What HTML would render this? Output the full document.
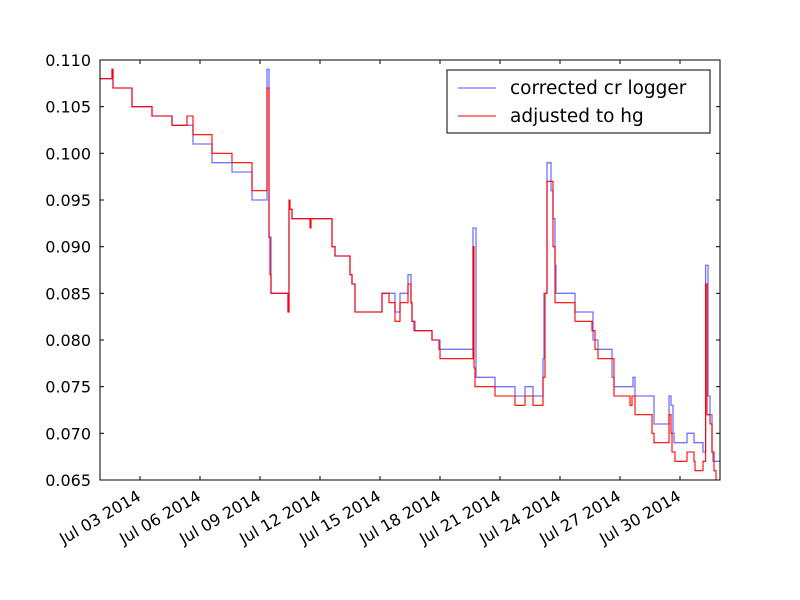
<!DOCTYPE html>
<html><head><meta charset="utf-8"><style>body{margin:0;background:#fff}svg{display:block;font-family:"DejaVu Sans","Liberation Sans",sans-serif}</style></head>
<body>
<svg id="chart" width="800" height="600">
<rect width="800" height="600" fill="#fff"/>
<g id="plot"></g>
<g id="axes"></g>
</svg>
<script>
const xTickDays=[2,5,8,11,14,17,20,23,26,29];
const xTickLabels=["Jul 03 2014","Jul 06 2014","Jul 09 2014","Jul 12 2014","Jul 15 2014","Jul 18 2014","Jul 21 2014","Jul 24 2014","Jul 27 2014","Jul 30 2014"];
const yTicks=[0.065,0.070,0.075,0.080,0.085,0.090,0.095,0.100,0.105,0.110];
const blueT=[0,0.6,0.65,1.6,2.6,3.6,4.65,5.6,6.6,7.6,8.35,8.45,8.55,9.4,9.45,9.5,9.6,11.6,11.75,12.5,12.6,12.75,14.1,14.75,15,15.4,15.55,15.6,15.7,15.75,16.6,17,18.65,18.8,19.75,20.75,21.25,21.65,22.15,22.2,22.35,22.55,22.65,22.75,22.8,23.75,24.65,24.9,25.6,25.7,26.65,26.75,27.7,28.45,28.55,28.65,28.7,29.35,29.7,30.15,30.28,30.4,30.5,30.6,30.65];
const blueV=[0.108,0.109,0.107,0.105,0.104,0.103,0.101,0.099,0.098,0.095,0.109,0.091,0.085,0.083,0.094,0.094,0.093,0.090,0.089,0.087,0.086,0.083,0.085,0.083,0.085,0.087,0.084,0.082,0.082,0.081,0.080,0.079,0.092,0.076,0.075,0.074,0.075,0.074,0.078,0.085,0.099,0.096,0.093,0.088,0.085,0.083,0.080,0.079,0.076,0.075,0.076,0.074,0.071,0.074,0.073,0.070,0.069,0.070,0.069,0.068,0.088,0.074,0.072,0.068,0.067];
const redT=[0,0.6,0.65,1.6,2.6,3.6,4.35,4.65,5.6,6.6,7.6,8.35,8.45,8.5,8.55,9.4,9.45,9.5,9.6,10.5,10.55,11.6,11.75,12.5,12.6,12.75,14.1,14.45,14.75,15,15.4,15.55,15.6,15.7,16.6,16.95,17,18.65,18.7,18.75,19.75,20.75,21.25,21.65,22.15,22.25,22.35,22.65,22.75,23.75,24.6,24.75,24.9,25.7,26.5,26.6,26.75,27.6,27.7,28.45,28.55,28.6,28.75,29.35,29.7,29.75,30.15,30.28,30.35,30.5,30.6,30.7,30.8];
const redV=[0.108,0.109,0.107,0.105,0.104,0.103,0.104,0.102,0.100,0.099,0.096,0.107,0.091,0.087,0.085,0.083,0.095,0.094,0.093,0.092,0.093,0.090,0.089,0.087,0.086,0.083,0.085,0.084,0.082,0.084,0.086,0.084,0.082,0.081,0.080,0.079,0.078,0.090,0.077,0.075,0.074,0.073,0.074,0.073,0.076,0.085,0.097,0.090,0.084,0.082,0.081,0.079,0.078,0.074,0.073,0.074,0.072,0.070,0.069,0.072,0.070,0.068,0.067,0.068,0.067,0.066,0.067,0.086,0.072,0.071,0.068,0.066,0.065];
const L=100,R=720,T=60,B=480,D0=0,D1=31,Y0=0.065,Y1=0.110;
const xs=d=>L+(d-D0)/(D1-D0)*(R-L);
const ys=v=>B-(v-Y0)/(Y1-Y0)*(B-T);
const NS="http://www.w3.org/2000/svg";
function mk(tag,attrs,parent){const e=document.createElementNS(NS,tag);for(const k in attrs)e.setAttribute(k,attrs[k]);parent.appendChild(e);return e;}
const plot=document.getElementById('plot'),axes=document.getElementById('axes');
const defs=mk('defs',{},plot);const cp=mk('clipPath',{id:'cp'},defs);mk('rect',{x:L,y:T,width:R-L,height:B-T},cp);
function stepPts(t,v){let p=[];for(let i=0;i<t.length;i++){const x=xs(t[i]);if(i>0)p.push(x+','+ys(v[i-1]));p.push(x+','+ys(v[i]));}p.push(xs(D1)+','+ys(v[v.length-1]));return p.join(' ');}
const bl=mk('polyline',{points:stepPts(blueT,blueV),fill:'none',stroke:'#0000ff','stroke-opacity':0.55,'stroke-width':1.3,'clip-path':'url(#cp)'},plot);


const rl=mk('polyline',{points:stepPts(redT,redV),fill:'none',stroke:'#ff0000','stroke-width':1.1,'clip-path':'url(#cp)'},plot);


const fr=mk('rect',{x:L,y:T,width:R-L,height:B-T,fill:'none',stroke:'#000','stroke-width':1},axes);


yTicks.forEach(v=>{const y=ys(v);
mk('line',{x1:L,x2:L+4,y1:y,y2:y,stroke:'#000'},axes);mk('line',{x1:R,x2:R-4,y1:y,y2:y,stroke:'#000'},axes);
const t=mk('text',{x:L-9,y:y+6,'text-anchor':'end','font-size':16},axes);t.textContent=v.toFixed(3);

});
xTickDays.forEach((d,i)=>{const x=xs(d);
mk('line',{x1:x,x2:x,y1:B,y2:B-4,stroke:'#000'},axes);mk('line',{x1:x,x2:x,y1:T,y2:T+4,stroke:'#000'},axes);
const ax=x-4,ay=B+9;
const t=mk('text',{x:ax,y:ay,'text-anchor':'end','font-size':16,transform:`rotate(-30 ${ax} ${ay})`,'dominant-baseline':'hanging'},axes);t.textContent=xTickLabels[i];

});
const lg=mk('g',{},axes);


mk('rect',{x:447,y:70,width:263,height:63,fill:'#fff',stroke:'#000'},lg);
mk('line',{x1:458,x2:496,y1:88,y2:88,stroke:'#0000ff','stroke-opacity':0.55,'stroke-width':1.3},lg);
mk('line',{x1:458,x2:496,y1:116,y2:116,stroke:'#ff0000','stroke-width':1.1},lg);
const t1=mk('text',{x:510,y:94,'font-size':18.5},lg);t1.textContent='corrected cr logger';


const t2=mk('text',{x:510,y:122,'font-size':18.5},lg);t2.textContent='adjusted to hg';


</script>
</body></html>
